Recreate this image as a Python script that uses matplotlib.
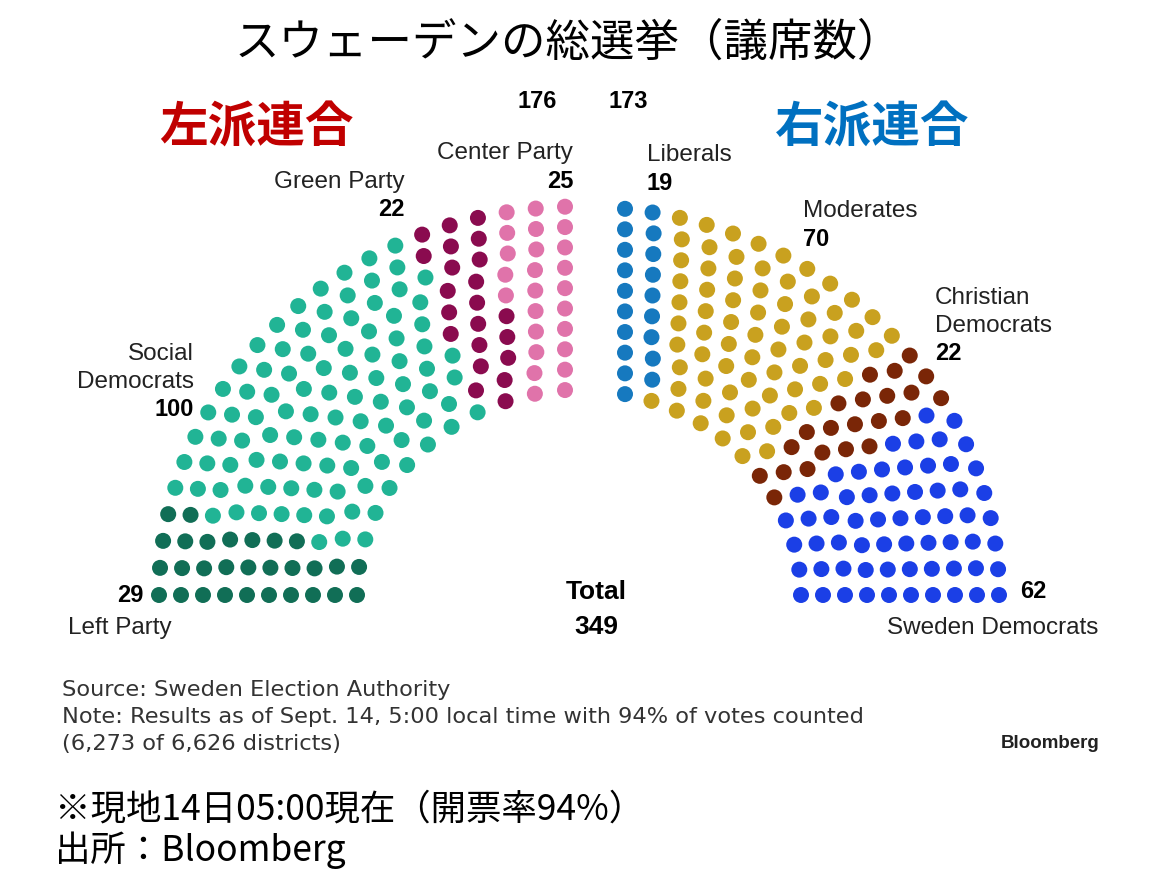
import matplotlib
matplotlib.use('Agg')
import matplotlib.pyplot as plt
import numpy as np

# seats (Sept. 14 count), left bloc filled from the bottom left, right bloc from the top
left_parties = ['Left Party', 'Social Democrats', 'Green Party', 'Center Party']
left_seats = [29, 100, 22, 25]
left_colors = ['#116e56', '#21b495', '#8a0b4f', '#e073aa']

right_parties = ['Liberals', 'Moderates', 'Christian Democrats', 'Sweden Democrats']
right_seats = [19, 70, 22, 62]
right_colors = ['#1679bf', '#c9a11f', '#7a2607', '#1b3fe6']

bloc_totals = [sum(left_seats), sum(right_seats)]
total_seats = sum(bloc_totals)

JP = ['Noto Sans CJK JP', 'DejaVu Sans']
SANS = 'Liberation Sans'

# hemicycle geometry (pixel space of the figure)
CX, CY = 579, 595
KY = 0.925
radii = 222 + 22 * np.arange(10)
TOP_LEFT_DX, TOP_RIGHT_DX = -14, 46


def split(total, weights):
    raw = total * weights / weights.sum()
    n = np.floor(raw).astype(int)
    rest = total - n.sum()
    order = np.argsort(-(raw - n))
    n[order[:rest]] += 1
    return n


def half_layout(total, top_dx, left):
    counts = split(total, radii.astype(float))
    seats = []
    for r, n in zip(radii, counts):
        t_top = np.arccos(top_dx / r)
        if left:
            ang = np.linspace(np.pi, t_top, n)
        else:
            ang = np.linspace(t_top, 0, n)
        for k, a in enumerate(ang):
            seats.append((k / (n - 1), -r, a, r))
    seats.sort()
    ang = np.array([s[2] for s in seats])
    rad = np.array([s[3] for s in seats])
    return CX + rad * np.cos(ang), CY - KY * rad * np.sin(ang)


fig = plt.figure(figsize=(11.63, 8.91), dpi=100)
fig.patch.set_facecolor('white')
ax = fig.add_axes([0, 0, 1, 1])
ax.set_xlim(0, 1163)
ax.set_ylim(891, 0)
ax.axis('off')

dot = (16 * 72 / 100) ** 2
for seats, colors, total, top_dx, left in [
        (left_seats, left_colors, bloc_totals[0], TOP_LEFT_DX, True),
        (right_seats, right_colors, bloc_totals[1], TOP_RIGHT_DX, False)]:
    xs, ys = half_layout(total, top_dx, left)
    seat_colors = np.repeat(colors, seats)
    ax.scatter(xs, ys, s=dot, c=seat_colors, linewidths=0)

# titles
ax.text(568, 43, 'スウェーデンの総選挙（議席数）', family=JP, fontsize=32,
        ha='center', va='center', color='black')
ax.text(256, 128, '左派連合', family=JP, fontsize=35, fontweight='bold',
        ha='center', va='center', color='#c00000')
ax.text(872, 128, '右派連合', family=JP, fontsize=35, fontweight='bold',
        ha='center', va='center', color='#0070c0')
ax.text(537, 101, str(bloc_totals[0]), family=SANS, fontsize=17,
        fontweight='bold', ha='center', va='center')
ax.text(628, 101, str(bloc_totals[1]), family=SANS, fontsize=17,
        fontweight='bold', ha='center', va='center')

# party labels: (name x, name y, ha, number y)
label_spots = {
    'Left Party': (68, 628, 'left', None),
    'Social Democrats': (194, 368, 'right', 410),
    'Green Party': (405, 182, 'right', 210),
    'Center Party': (573, 153, 'right', 181),
    'Liberals': (647, 155, 'left', 183),
    'Moderates': (803, 211, 'left', 239),
    'Christian Democrats': (935, 312, 'left', 354),
    'Sweden Democrats': (1098, 628, 'right', None),
}
all_parties = left_parties + right_parties
all_seats = left_seats + right_seats
for name, n in zip(all_parties, all_seats):
    x, y, ha, ny = label_spots[name]
    text = name.replace(' ', '\n') if name in ('Social Democrats', 'Christian Democrats') else name
    ax.text(x, y, text, family=SANS, fontsize=17.5, ha=ha, va='center',
            color='#222222', linespacing=1.3)
    if ny is not None:
        ax.text(x, ny, str(n), family=SANS, fontsize=17, fontweight='bold',
                ha=ha, va='center', color='black')

ax.text(143, 595, str(left_seats[0]), family=SANS, fontsize=17,
        fontweight='bold', ha='right', va='center')
ax.text(1020, 591, str(right_seats[-1]), family=SANS, fontsize=17,
        fontweight='bold', ha='left', va='center')
ax.text(596, 592, 'Total', family=SANS, fontsize=19, fontweight='bold',
        ha='center', va='center')
ax.text(596, 627, str(total_seats), family=SANS, fontsize=19,
        fontweight='bold', ha='center', va='center')

# source notes
notes = ['Source: Sweden Election Authority',
         'Note: Results as of Sept. 14, 5:00 local time with 94% of votes counted',
         '(6,273 of 6,626 districts)']
for i, line in enumerate(notes):
    ax.text(62, 690 + 27 * i, line, family='DejaVu Sans', fontsize=16.2,
            ha='left', va='center', color='#333333')
ax.text(1100, 743, 'Bloomberg', family=SANS, fontsize=13.5, fontweight='bold',
        ha='right', va='center', color='#222222')

ax.text(55, 810, '※現地14日05:00現在（開票率94%）', family=JP, fontsize=25.5,
        ha='left', va='center', color='black')
ax.text(55, 850, '出所：Bloomberg', family=JP, fontsize=25.5,
        ha='left', va='center', color='black')

fig.savefig('out.png', dpi=100, facecolor='white')
